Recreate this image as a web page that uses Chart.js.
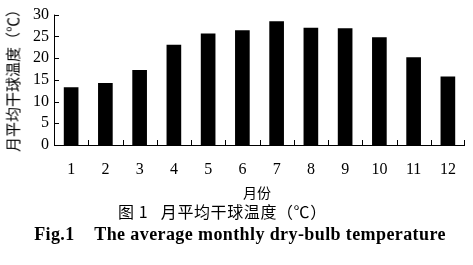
<!DOCTYPE html>
<html><head><meta charset="utf-8">
<script src="https://cdn.jsdelivr.net/npm/chart.js@4/dist/chart.umd.min.js"></script>
<style>
html,body{margin:0;padding:0;background:#fff;}
#wrap{position:relative;width:473px;height:265px;overflow:hidden;}
canvas{position:absolute;left:0;top:0;}
.t{position:absolute;white-space:nowrap;color:#000;}
</style></head><body>
<div id="wrap">
<canvas id="c" width="473" height="265"></canvas>
<div class="t" id="ylab" style="font:15px 'Noto Sans CJK SC';left:12px;top:77px;transform:translate(-50%,-50%) rotate(-90deg);">月平均干球温度（℃）</div>
<div class="t" style="font:14px 'Noto Sans CJK SC';left:257px;top:192px;transform:translate(-50%,-50%);">月份</div>
<div class="t" style="font:16px 'Noto Sans CJK SC';letter-spacing:0.6px;left:118px;top:211px;transform:translate(0,-50%);">图 1&nbsp;&nbsp;&nbsp;月平均干球温度（℃）</div>
<div class="t" style="font:bold 18px 'Liberation Serif';letter-spacing:0.4px;left:240px;top:234px;transform:translate(-50%,-50%);">Fig.1&nbsp;&nbsp;&nbsp;&nbsp;The average monthly dry-bulb temperature</div>
</div>
<script>
const months = ['1','2','3','4','5','6','7','8','9','10','11','12'];
const temps = [13.2, 14.2, 17.2, 23.0, 25.6, 26.3, 28.4, 26.9, 26.8, 24.7, 20.1, 15.7];
const yTicks = [0, 5, 10, 15, 20, 25, 30];

const innerTicks = {
  id: 'innerTicks',
  afterDraw(chart) {
    const ctx = chart.ctx, x = chart.scales.x, y = chart.scales.y;
    const a = chart.chartArea;
    ctx.save();
    ctx.strokeStyle = '#000';
    ctx.lineWidth = 1;
    ctx.beginPath();
    ctx.moveTo(a.left + 0.5, a.top);
    ctx.lineTo(a.left + 0.5, a.bottom + 0.5);
    ctx.lineTo(a.right, a.bottom + 0.5);
    yTicks.forEach(v => {
      const py = Math.round(y.getPixelForValue(v)) + 0.5;
      ctx.moveTo(a.left, py);
      ctx.lineTo(a.left + 5, py);
    });
    for (let i = 1; i <= months.length; i++) {
      const px = Math.round((x.getPixelForValue(i - 1) + x.getPixelForValue(i)) / 2) + 0.5;
      const pxe = i === months.length ? Math.round(a.right) - 0.5 : px;
      ctx.moveTo(pxe, a.bottom);
      ctx.lineTo(pxe, a.bottom - 5);
    }
    ctx.stroke();
    ctx.restore();
  }
};

new Chart(document.getElementById('c'), {
  type: 'bar',
  data: {
    labels: months,
    datasets: [{
      data: temps,
      backgroundColor: '#000',
      borderWidth: 0,
      barThickness: 14
    }]
  },
  options: {
    responsive: false,
    animation: false,
    events: [],
    layout: { padding: { top: 14, right: 8, left: 0, bottom: 0 } },
    plugins: { legend: { display: false }, tooltip: { enabled: false } },
    scales: {
      x: {
        grid: { display: false, drawTicks: false },
        border: { display: false },
        ticks: { color: '#000', font: { family: 'Liberation Serif', size: 16 }, padding: 15, maxRotation: 0, autoSkip: false },
        afterFit(s) { s.height = 120; }
      },
      y: {
        min: 0, max: 30,
        afterBuildTicks(s) { s.ticks = yTicks.map(v => ({ value: v })); },
        grid: { display: false, drawTicks: false },
        border: { display: false },
        ticks: { color: '#000', font: { family: 'Liberation Serif', size: 16 }, padding: 5, autoSkip: false },
        afterFit(s) { s.width = 54; }
      }
    }
  },
  plugins: [innerTicks]
});
</script>
</body></html>
